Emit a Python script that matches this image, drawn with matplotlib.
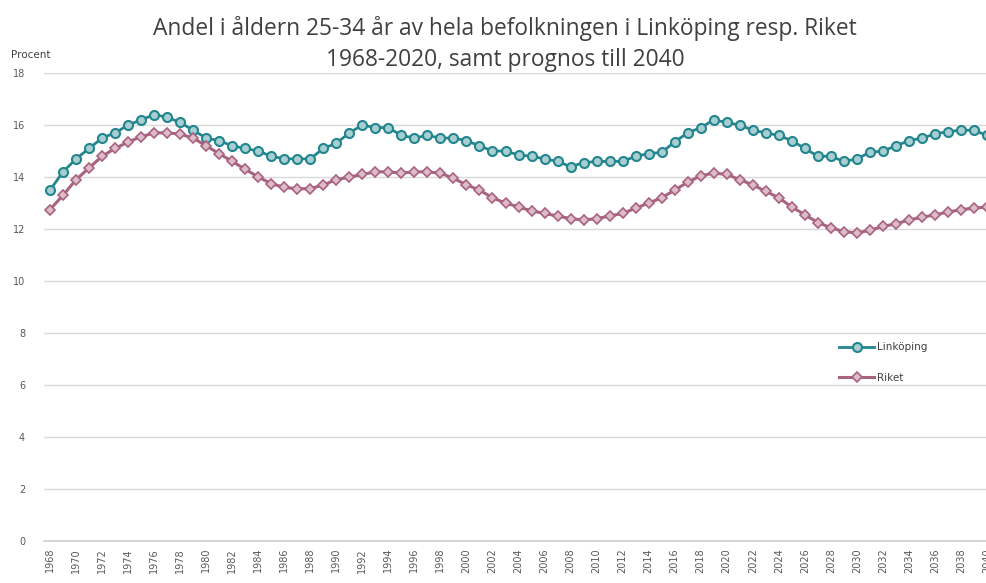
import matplotlib
matplotlib.use("Agg")
import matplotlib.pyplot as plt

years = list(range(1968, 2041))

linkoping = [13.5, 14.2, 14.7, 15.1, 15.5, 15.7, 16.0, 16.2, 16.4, 16.3,
             16.1, 15.8, 15.5, 15.4, 15.2, 15.1, 15.0, 14.8, 14.7, 14.7,
             14.7, 15.1, 15.3, 15.7, 16.0, 15.9, 15.9, 15.6, 15.5, 15.6,
             15.5, 15.5, 15.4, 15.2, 15.0, 15.0, 14.85, 14.8, 14.7, 14.6,
             14.4, 14.55, 14.6, 14.6, 14.6, 14.8, 14.9, 14.95, 15.35, 15.7,
             15.9, 16.2, 16.1, 16.0, 15.8, 15.7, 15.6, 15.4, 15.1, 14.8,
             14.8, 14.6, 14.7, 14.95, 15.0, 15.2, 15.4, 15.5, 15.65, 15.75,
             15.8, 15.8, 15.6]

riket = [12.75, 13.3, 13.9, 14.35, 14.8, 15.1, 15.35, 15.55, 15.7, 15.7,
         15.65, 15.5, 15.2, 14.9, 14.6, 14.3, 14.0, 13.75, 13.6, 13.55,
         13.55, 13.7, 13.9, 14.0, 14.1, 14.2, 14.2, 14.15, 14.2, 14.2,
         14.15, 13.95, 13.7, 13.5, 13.2, 13.0, 12.85, 12.7, 12.6, 12.5,
         12.4, 12.35, 12.4, 12.5, 12.6, 12.8, 13.0, 13.2, 13.5, 13.8,
         14.05, 14.15, 14.1, 13.9, 13.7, 13.45, 13.2, 12.85, 12.55, 12.25,
         12.05, 11.9, 11.85, 11.95, 12.1, 12.2, 12.35, 12.45, 12.55, 12.65,
         12.75, 12.8, 12.85]

y_ticks = list(range(0, 19, 2))
x_ticks = list(range(1968, 2041, 2))

title = ("Andel i åldern 25-34 år av hela befolkningen i Linköping resp. Riket\n"
         "1968-2020, samt prognos till 2040")

fig = plt.figure(figsize=(9.87, 5.83), dpi=100)
ax = fig.add_axes([0.0441, 0.072, 0.9559, 0.8027])

teal = "#23868f"
teal_face = "#a7cfd2"
pink = "#a8637f"
pink_face = "#dcbccb"

ax.plot(years, linkoping, color=teal, lw=2.0, marker="o", markersize=6.5,
        markerfacecolor=teal_face, markeredgecolor=teal, markeredgewidth=1.5,
        label="Linköping", zorder=3)
ax.plot(years, riket, color=pink, lw=2.2, marker="D", markersize=5,
        markerfacecolor=pink_face, markeredgecolor=pink, markeredgewidth=1.2,
        label="Riket", zorder=3)

ax.set_xlim(1967.5, 2039.95)
ax.set_ylim(0, 18)
ax.set_yticks(y_ticks)
ax.set_yticklabels([str(v) for v in y_ticks])
ax.set_xticks(x_ticks)
ax.set_xticklabels([str(v) for v in x_ticks], rotation=90)

ax.grid(axis="y", color="#d9d9d9", lw=1.0)
ax.set_axisbelow(True)
for s in ["top", "right", "left"]:
    ax.spines[s].set_visible(False)
ax.spines["bottom"].set_color("#d0d0d0")
ax.spines["bottom"].set_linewidth(1.2)

ax.tick_params(axis="y", length=0, pad=13.3, labelsize=7, labelcolor="#595959")
ax.tick_params(axis="x", length=0, pad=5, labelsize=7, labelcolor="#595959")
for lbl in ax.get_xticklabels() + ax.get_yticklabels():
    lbl.set_family("DejaVu Sans")

fig.text(0.512, 0.972, title, ha="center", va="top", fontsize=16.4,
         color="#404040", family="Open Sans", linespacing=1.36)
fig.text(0.011, 0.905, "Procent", ha="left", va="center", fontsize=7.5,
         color="#404040", family="DejaVu Sans")

leg = ax.legend(loc="upper left", bbox_to_anchor=(0.833, 0.445), frameon=False,
                fontsize=7.5, handlelength=3.4, labelspacing=2.0,
                handletextpad=0.3)
for t in leg.get_texts():
    t.set_color("#404040")

fig.savefig("out.png", dpi=100)
